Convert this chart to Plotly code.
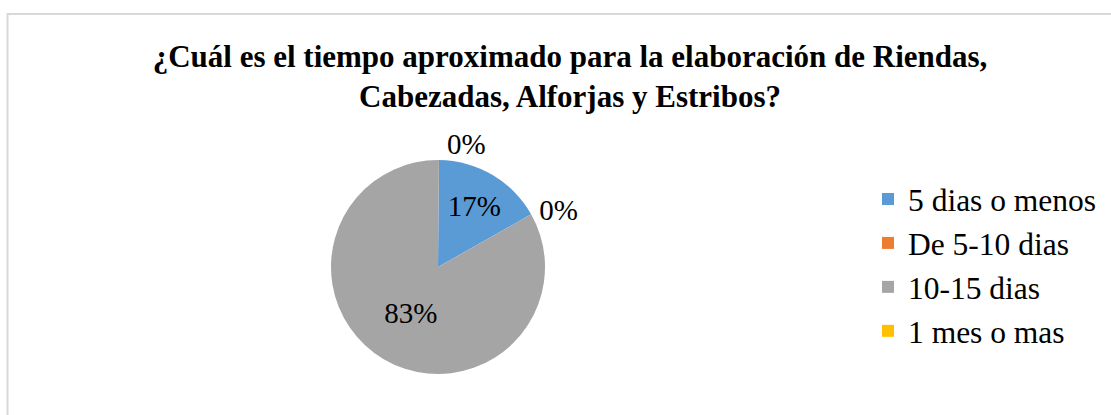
import plotly.graph_objects as go

labels = ["5 dias o menos", "De 5-10 dias", "10-15 dias", "1 mes o mas"]
values = [1, 0, 5, 0]
colors = ["#5B9BD5", "#ED7D31", "#A5A5A5", "#FFC000"]
title_text = "<b>¿Cuál es el tiempo aproximado para la elaboración de Riendas,<br>Cabezadas, Alforjas y Estribos?</b>"

W, H = 1111, 415
FONT = "Liberation Serif"

fig = go.Figure()
fig.add_trace(go.Pie(
    labels=labels,
    values=values,
    sort=False,
    direction="clockwise",
    rotation=0.5,
    marker=dict(colors=colors),
    texttemplate="%{percent:.0%}",
    textposition=["inside", "outside", "inside", "outside"],
    insidetextorientation="horizontal",
    textfont=dict(family=FONT, size=29, color="#000000"),
    showlegend=True,
    hoverinfo="label+percent",
    domain=dict(x=[331 / W, 545 / W], y=[1 - 374 / H, 1 - 160 / H]),
))

fig.update_layout(
    width=W, height=H,
    margin=dict(l=0, r=0, t=0, b=0),
    paper_bgcolor="white",
    font=dict(family=FONT, color="#000000"),
    title=dict(text=title_text, x=570 / W, xanchor="center", y=1 - 67 / H, yanchor="middle",
               font=dict(family=FONT, size=31, color="#000000")),
    legend=dict(x=868 / W, xanchor="left", y=1 - 172 / H, yanchor="top",
                font=dict(family=FONT, size=31.5, color="#000000"),
                bgcolor="rgba(0,0,0,0)", itemclick=False),
    shapes=[dict(type="rect", xref="paper", yref="paper",
                 x0=7.5 / W, x1=1.05, y0=-0.05, y1=1 - 14 / H,
                 line=dict(color="#D9D9D9", width=2), fillcolor="rgba(0,0,0,0)", layer="below")],
)

fig.write_html("out.html", config={"displayModeBar": False},
               post_script="document.body.style.margin='0';document.body.style.padding='0';")
